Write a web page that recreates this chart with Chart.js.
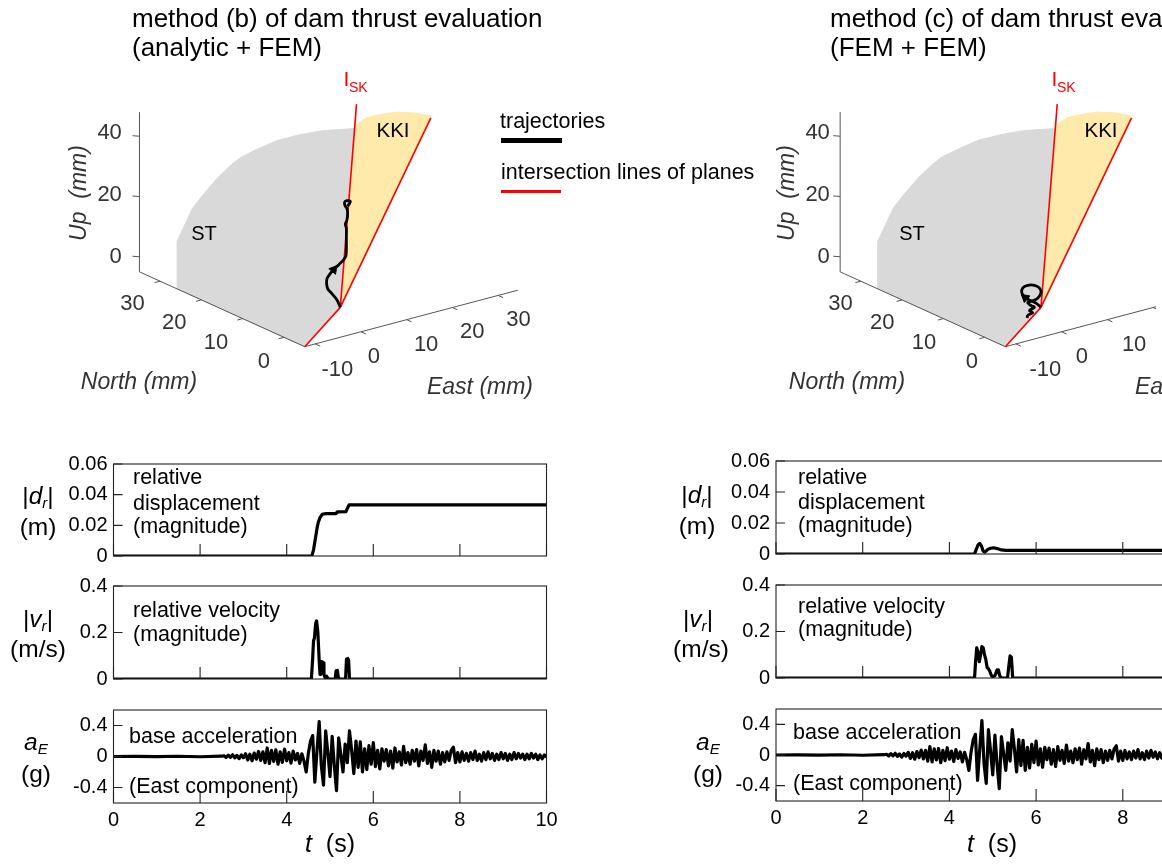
<!DOCTYPE html>
<html><head><meta charset="utf-8">
<script src="https://cdn.jsdelivr.net/npm/chart.js@4.4.1/dist/chart.umd.min.js"></script>
<style>
html,body{margin:0;padding:0;background:#fff;overflow:hidden;width:1162px;height:865px;}
#wrap{position:relative;width:1162px;height:865px;overflow:hidden;font-family:"Liberation Sans",Arial,Helvetica,sans-serif;}
#wrap canvas{position:absolute;}
.t{position:absolute;white-space:nowrap;color:#000;line-height:1;}
.t sub{font-size:0.62em;line-height:0;vertical-align:-0.28em;}
</style></head><body><div id="wrap">
<canvas id="c3d" width="1162" height="430" style="left:0;top:0"></canvas>
</div>
<script>
// ---------------- DATA ----------------
// time-series axes
const timeTicks = [0, 2, 4, 6, 8, 10];
const timeLabels = ['0', '2', '4', '6', '8', '10'];
const dTicks = [0, 0.02, 0.04, 0.06];
const dLabels = ['0', '0.02', '0.04', '0.06'];
const vTicks = [0, 0.2, 0.4];
const vLabels = ['0', '0.2', '0.4'];
const aTicks = [-0.4, 0, 0.4];
const aLabels = ['-0.4', '0', '0.4'];

// method (b): relative displacement magnitude [t (s), |dr| (m)]
const dispB = [[0,0],[4.58,0],[4.62,0.004],[4.66,0.011],[4.7,0.018],[4.73,0.022],[4.77,0.025],[4.82,0.0272],[4.9,0.0276],[5.14,0.0277],[5.17,0.0288],[5.37,0.029],[5.4,0.031],[5.44,0.0333],[6.5,0.0334],[8,0.0333],[10,0.0333]];
// method (b): relative velocity magnitude [t (s), |vr| (m/s)]
const velB = [[0,0],[4.57,0],[4.6,0.09],[4.62,0.165],[4.64,0.175],[4.67,0.24],[4.69,0.25],[4.72,0.2],[4.75,0.08],[4.77,0.02],[4.79,0.06],[4.81,0.075],[4.84,0.07],[4.86,0.02],[4.89,0.003],[4.92,0.012],[4.95,0.004],[4.98,0],[5.12,0],[5.14,0.035],[5.17,0.037],[5.19,0.01],[5.21,0],[5.36,0],[5.38,0.085],[5.41,0.088],[5.43,0.08],[5.45,0],[10,0]];
// method (c): relative displacement magnitude
const dispC = [[0,0],[4.58,0],[4.62,0.003],[4.66,0.0058],[4.7,0.0068],[4.74,0.0052],[4.78,0.0018],[4.82,0.0012],[4.88,0.0028],[4.95,0.0037],[5.02,0.004],[5.1,0.0035],[5.2,0.0026],[5.3,0.0024],[10,0.0024]];
// method (c): relative velocity magnitude
const velC = [[0,0],[4.58,0],[4.6,0.06],[4.63,0.13],[4.66,0.11],[4.69,0.07],[4.72,0.1],[4.75,0.135],[4.78,0.13],[4.81,0.1],[4.84,0.08],[4.87,0.045],[4.9,0.04],[4.93,0.03],[4.97,0.01],[5.0,0.005],[5.05,0.01],[5.1,0.035],[5.13,0.035],[5.16,0.01],[5.2,0],[5.34,0],[5.37,0.05],[5.4,0.095],[5.43,0.09],[5.46,0],[10,0]];
// base acceleration, East component [t (s), aE (g)]
const accelE = [[0,0],[0.5,0.002],[1,-0.002],[1.5,0.003],[2,-0.003],[2.5,0.004],
[2.55,0.01],[2.6,-0.012],[2.65,0.018],[2.7,-0.01],[2.75,0.022],[2.8,-0.018],[2.85,0.015],[2.9,-0.028],[2.95,0.02],[3.0,-0.015],
[3.05,0.035],[3.1,-0.045],[3.15,0.03],[3.2,-0.055],[3.25,0.045],[3.3,-0.035],[3.35,0.065],[3.4,-0.05],[3.45,0.06],[3.5,-0.08],
[3.55,0.11],[3.6,-0.09],[3.65,0.08],[3.7,-0.065],[3.75,0.085],[3.8,-0.1],[3.85,0.06],[3.9,-0.075],[3.95,0.095],[4.0,-0.055],
[4.05,0.05],[4.1,-0.085],[4.15,0.07],[4.2,-0.045],[4.25,0.04],[4.3,-0.09],[4.35,0.035],[4.4,-0.06],[4.45,-0.2],[4.5,0.04],
[4.55,0.2],[4.6,0.27],[4.65,-0.33],[4.7,0.08],[4.75,0.45],[4.8,-0.12],[4.85,-0.37],[4.9,0.33],[4.95,0.05],[5.0,-0.26],
[5.05,0.26],[5.1,-0.12],[5.15,-0.44],[5.2,0.24],[5.25,0.02],[5.3,-0.2],[5.35,0.16],[5.4,-0.08],[5.45,0.33],[5.5,0.08],
[5.55,-0.22],[5.6,0.2],[5.65,-0.14],[5.7,0.19],[5.75,-0.2],[5.8,0.1],[5.85,-0.17],[5.9,0.14],[5.95,-0.1],[6.0,0.18],
[6.05,-0.13],[6.1,0.08],[6.15,-0.16],[6.2,0.1],[6.25,-0.06],[6.3,0.09],[6.35,-0.12],[6.4,0.07],[6.45,-0.15],[6.5,0.11],
[6.55,-0.07],[6.6,0.06],[6.65,-0.11],[6.7,0.13],[6.75,-0.08],[6.8,0.05],[6.85,-0.1],[6.9,0.08],[6.95,-0.06],[7.0,0.09],
[7.05,-0.12],[7.1,0.07],[7.15,-0.05],[7.2,0.15],[7.25,-0.09],[7.3,0.06],[7.35,-0.14],[7.4,0.08],[7.45,-0.06],[7.5,0.07],
[7.55,-0.1],[7.6,0.05],[7.65,-0.07],[7.7,0.06],[7.75,-0.05],[7.8,0.08],[7.85,0.12],[7.9,-0.08],[7.95,0.05],[8.0,-0.07],
[8.05,0.06],[8.1,-0.05],[8.15,0.04],[8.2,-0.06],[8.25,0.05],[8.3,-0.04],[8.35,0.07],[8.4,-0.05],[8.45,0.03],[8.5,-0.06],
[8.55,0.05],[8.6,-0.04],[8.65,0.06],[8.7,-0.03],[8.75,0.04],[8.8,-0.05],[8.85,0.03],[8.9,-0.04],[8.95,0.05],[9.0,-0.03],
[9.05,0.04],[9.1,-0.05],[9.15,0.03],[9.2,-0.04],[9.25,0.05],[9.3,-0.03],[9.35,0.04],[9.4,-0.02],[9.45,0.03],[9.5,-0.04],
[9.55,0.03],[9.6,-0.03],[9.65,0.04],[9.7,-0.02],[9.75,0.03],[9.8,-0.04],[9.85,0.02],[9.9,-0.03],[9.95,0.02],[10.0,-0.01]];

// 3-D panels: [North, East, Up] in mm
const northTicks = [0, 10, 20, 30];
const eastTicks = [-10, 0, 10, 20, 30];
const upTicks = [0, 20, 40];
const limN = [-5, 35], limE = [-12.3, 34.3], limU = [-5, 48];
const stPlane = [[25.9,-12.3,-5],[25.9,-12.3,10.8],[38.2,0,2.0],[35.8,0,10.6],[33.4,0,16.3],[29.8,0,24.3],[26.3,0,31.1],[23.9,0,35.1],[20.0,0,40.1],[15.2,0,46.0],[9.5,0,51.5],[4.0,0,56.2],[-0.1,0,59.1],[0,3.12,58.1],[0,0,0],[-5,-12.3,-5],[25.9,-12.3,-5]];
const kkiPlane = [[0,0,0],[0,3.18,59.05],[0,5.71,60.6],[0,7.88,60.6],[0,12.21,59.9],[0,16.54,57.8],[0,19.57,55.7],[0,19.8,54.9],[0,0,0]];
const iskLine = [[0,0,0],[0,3.55,66.0]];
const kkiEdge = [[0,0,0],[0,19.8,54.9]];
const lowEdge = [[0,0,0],[-5,-12.3,-5]];
const trajB = [[0,0,0],[0.79,0,1.96],[1.99,0,3.25],[3.02,0,4.22],[3.33,0,5.96],[3.19,0,7.66],[2.54,0,9.45],[1.58,0,11.57],[0.38,0,13.93],[-0.81,0,16.28],[-1.37,0,18.01],[-1.46,0,20.78],[-1.46,0,24.0],[-1.46,0,27.2],[-1.22,0,28.4],[-1.6,0,30.0],[-1.77,0,32.3],[-1.6,0,33.8],[-1.13,0,34.5],[-1.05,0,35.6],[-1.6,0,36.4],[-2.42,0,36.7],[-2.25,0,35.8],[-1.77,0,34.7]];
const trajC = [[0,0,0],[1.2,0,0.67],[2.4,0,0.67],[3.83,0,0.85],[4.65,0,1.95],[4.41,0,3.72],[3.21,0,5.33],[1.6,0,6.33],[0.41,0,6.2],[0,0,4.84],[0.81,0,2.53],[2.01,0,0.91],[3.21,0,-0.38],[2.4,0,-0.94],[1.6,0,-0.99],[2.8,0,-2.8],[2.01,0,-3.05],[3.21,0,-4.67],[3.35,0,-5.63]];
const arrowB = [1.58, 0, 11.57];
const arrowC = [3.83, 0, 0.85];

// ---------------- VIEW / LAYOUT ----------------
const VIEW = {ox:337.8, oy:310, nx:-4.175, ny:-1.925, ex:4.62, ey:-1.247, uy:-3.1};
const PANELS = [0, 708];
const FONT = '"Liberation Sans", Arial, Helvetica, sans-serif';
Chart.defaults.font.family = FONT;

function proj(p, off){
  return {x: VIEW.ox + off + p[0]*VIEW.nx + p[1]*VIEW.ex, y: VIEW.oy + p[0]*VIEW.ny + p[1]*VIEW.ey + p[2]*VIEW.uy};
}
function segs(list, off){
  const out = [];
  list.forEach((s, i) => { if (i) out.push({x:0, y:null}); s.forEach(p => out.push(proj(p, off))); });
  return out;
}

const ds3d = [];
PANELS.forEach((off, k) => {
  const traj = k ? trajC : trajB;
  const arr = k ? arrowC : arrowB;
  ds3d.push({data: stPlane.map(p => proj(p, off)), borderColor:'#d9d9d9', borderWidth:1, backgroundColor:'#d9d9d9', fill:'shape', pointRadius:0, tension:0, order:20});
  ds3d.push({data: kkiPlane.map(p => proj(p, off)), borderColor:'#ffe9ab', borderWidth:1, backgroundColor:'#ffe9ab', fill:'shape', pointRadius:0, tension:0, order:19});
  const axes = [[[limN[0],limE[0],limU[0]],[limN[1],limE[0],limU[0]]],[[limN[0],limE[0],limU[0]],[limN[0],limE[1],limU[0]]],[[limN[1],limE[0],limU[0]],[limN[1],limE[0],limU[1]]]];
  const ticks = [];
  northTicks.forEach(n => ticks.push([[n,limE[0],limU[0]],[n,limE[0]-1.2,limU[0]]]));
  eastTicks.forEach(e => ticks.push([[limN[0],e,limU[0]],[limN[0]-1.2,e,limU[0]]]));
  upTicks.forEach(u => ticks.push([[limN[1],limE[0],u],[limN[1]+0.8,limE[0]-0.8,u]]));
  ds3d.push({data: segs(axes.concat(ticks), off), borderColor:'#555', borderWidth:1, pointRadius:0, fill:false, order:15});
  ds3d.push({data: segs([iskLine, kkiEdge, lowEdge], off), borderColor:'#ff0000', borderWidth:1.6, pointRadius:0, fill:false, order:10});
  ds3d.push({data: traj.map(p => proj(p, off)), borderColor:'#000', borderWidth:2.8, pointRadius:0, fill:false, tension:0.35, order:5});
  ds3d.push({data: [proj(arr, off)], showLine:false, pointStyle:'triangle', pointRadius:5, rotation: k ? -50 : 40, backgroundColor:'#000', borderColor:'#000', borderWidth:1, order:4});
});

const labels3D = {
  id:'labels3D',
  afterDatasetsDraw(chart){
    const ctx = chart.ctx;
    ctx.save();
    ctx.textBaseline = 'middle';
    PANELS.forEach(off => {
      ctx.fillStyle = '#333';
      ctx.font = '22px ' + FONT;
      ctx.textAlign = 'right';
      northTicks.forEach(n => { const p = proj([n,limE[0],limU[0]], off); ctx.fillText(String(n), p.x-11, p.y+21); });
      upTicks.forEach(u => { const p = proj([limN[1],limE[0],u], off); ctx.fillText(String(u), p.x-13, p.y-1); });
      ctx.textAlign = 'left';
      eastTicks.forEach(e => { const p = proj([limN[0],e,limU[0]], off); ctx.fillText(String(e), p.x+9, p.y+22); });
      ctx.font = 'italic 23px ' + FONT;
      ctx.textAlign = 'center';
      ctx.fillText('North (mm)', 139+off, 383);
      ctx.fillText('East (mm)', 480+off, 388);
      ctx.save(); ctx.translate(80+off, 193); ctx.rotate(-Math.PI/2); ctx.fillText('Up  (mm)', 0, 0); ctx.restore();
      ctx.fillStyle = '#000';
      ctx.font = '20px ' + FONT;
      ctx.fillText('ST', 204+off, 234);
      ctx.font = '20.5px ' + FONT;
      ctx.fillText('KKI', 393+off, 131);
      ctx.fillStyle = '#ff0000';
      ctx.font = '21px ' + FONT;
      ctx.fillText('I', 346.5+off, 80);
      ctx.font = '14px ' + FONT;
      ctx.textAlign = 'left';
      ctx.fillText('SK', 349+off, 88);
    });
    ctx.restore();
  }
};

new Chart(document.getElementById('c3d'), {
  type:'line',
  data:{datasets: ds3d},
  options:{
    responsive:false, animation:false, devicePixelRatio:1, events:[],
    layout:{padding:0},
    plugins:{legend:{display:false}, tooltip:{enabled:false}},
    scales:{
      x:{type:'linear', min:0, max:1162, display:false},
      y:{type:'linear', min:0, max:430, reverse:true, display:false}
    }
  },
  plugins:[labels3D]
});

// ---------------- TIME-SERIES PANELS ----------------
const wrap = document.getElementById('wrap');
const COLS = [
  {left:0, boxLeft:113.5, boxRight:546.5, boxes:[[464,556],[586,679],[710,803]]},
  {left:662, boxLeft:776, boxRight:1209.5, boxes:[[461,554],[585,678],[709,801]]}
];

function makePanel(col, box, yMin, yMax, yTicks, yLabels, series, lw, showX){
  const W = 560, padTop = 14, xh = showX ? 50 : 0, padBottom = showX ? 0 : 14;
  const H = (box[1]-box[0]) + padTop + padBottom + xh;
  const cv = document.createElement('canvas');
  cv.width = W; cv.height = H;
  cv.style.left = col.left + 'px'; cv.style.top = (box[0]-padTop) + 'px';
  wrap.appendChild(cv);
  const boxPlugin = {
    id:'panelBox',
    afterDatasetsDraw(chart){
      const {ctx, chartArea:a, scales:{x, y}} = chart;
      ctx.save();
      ctx.strokeStyle = '#222'; ctx.lineWidth = 1.1;
      ctx.strokeRect(a.left, a.top, a.right-a.left, a.bottom-a.top);
      ctx.beginPath();
      timeTicks.forEach(v => { const px = x.getPixelForValue(v); ctx.moveTo(px, a.bottom); ctx.lineTo(px, a.bottom-12); });
      yTicks.forEach(v => { const py = y.getPixelForValue(v); ctx.moveTo(a.left, py); ctx.lineTo(a.left+9, py); });
      ctx.stroke();
      ctx.restore();
    }
  };
  new Chart(cv, {
    type:'line',
    data:{datasets:[{data: series.map(([t, v]) => ({x:t, y:v})), borderColor:'#000', borderWidth:lw, pointRadius:0, tension:0, fill:false, borderJoinStyle:'round'}]},
    options:{
      responsive:false, animation:false, devicePixelRatio:1, events:[],
      layout:{padding:{left:0, top:padTop, right: W-(col.boxRight-col.left), bottom:padBottom}},
      plugins:{legend:{display:false}, tooltip:{enabled:false}},
      scales:{
        x:{type:'linear', min:0, max:10, display:showX,
           grid:{display:false, drawTicks:false}, border:{display:false},
           afterBuildTicks: s => { s.ticks = timeTicks.map(v => ({value:v})); },
           afterFit: s => { s.height = xh; s.paddingLeft = 0; s.paddingRight = 0; },
           ticks:{font:{size:20}, color:'#000', padding:5, maxRotation:0, autoSkip:false, callback:(v, i) => timeLabels[i]}},
        y:{type:'linear', min:yMin, max:yMax,
           grid:{display:false, drawTicks:false}, border:{display:false},
           afterBuildTicks: s => { s.ticks = yTicks.map(v => ({value:v})); },
           afterFit: s => { s.width = col.boxLeft - col.left; s.paddingTop = 0; s.paddingBottom = 0; },
           ticks:{font:{size:20}, color:'#000', padding:6, autoSkip:false, callback:(v, i) => yLabels[i]}}
      }
    },
    plugins:[boxPlugin]
  });
}

makePanel(COLS[0], COLS[0].boxes[0], 0, 0.06, dTicks, dLabels, dispB, 3.2, false);
makePanel(COLS[0], COLS[0].boxes[1], 0, 0.4, vTicks, vLabels, velB, 3.2, false);
makePanel(COLS[0], COLS[0].boxes[2], -0.6, 0.6, aTicks, aLabels, accelE, 3.2, true);
makePanel(COLS[1], COLS[1].boxes[0], 0, 0.06, dTicks, dLabels, dispC, 3.2, false);
makePanel(COLS[1], COLS[1].boxes[1], 0, 0.4, vTicks, vLabels, velC, 3.2, false);
makePanel(COLS[1], COLS[1].boxes[2], -0.6, 0.6, aTicks, aLabels, accelE, 3.2, true);

// ---------------- TEXT ----------------
function txt(html, x, y, size, opt){
  opt = opt || {};
  const d = document.createElement('div');
  d.className = 't';
  d.innerHTML = html;
  d.style.fontSize = size + 'px';
  d.style.left = x + 'px';
  d.style.top = y + 'px';
  if (opt.color) d.style.color = opt.color;
  d.style.transform = opt.center ? 'translate(-50%,-50%)' : 'translate(0,-50%)';
  wrap.appendChild(d);
}
// titles
txt('method (b) of dam thrust evaluation', 132, 18, 26);
txt('(analytic + FEM)', 132, 47, 26);
txt('method (c) of dam thrust evaluation', 830, 18, 26);
txt('(FEM + FEM)', 830, 47, 26);
// legend
txt('trajectories', 500, 122, 21.5);
txt('intersection lines of planes', 501, 173, 21.5);
const lg1 = document.createElement('div'); lg1.style.cssText = 'position:absolute;left:501px;top:138px;width:61px;height:5px;background:#000;'; wrap.appendChild(lg1);
const lg2 = document.createElement('div'); lg2.style.cssText = 'position:absolute;left:501px;top:190px;width:60px;height:2.5px;background:#ff0000;'; wrap.appendChild(lg2);
// y labels
const yl = [
  [['|<i>d<sub>r</sub></i>|', 38, 496], ['(m)', 38, 527], ['|<i>v<sub>r</sub></i>|', 38, 619], ['(m/s)', 38, 649], ['<i>a<sub>E</sub></i>', 36, 742], ['(g)', 36, 774]],
  [['|<i>d<sub>r</sub></i>|', 697, 495], ['(m)', 697, 526], ['|<i>v<sub>r</sub></i>|', 698, 619], ['(m/s)', 701, 649], ['<i>a<sub>E</sub></i>', 708, 742], ['(g)', 708, 774]]
];
yl.forEach(c => c.forEach(([h, x, y]) => txt(h, x, y, 24.5, {center:true})));
// annotations
const ann = [
  {x:133, rows:[['relative',478],['displacement',504],['(magnitude)',527],['relative velocity',611],['(magnitude)',635],['base acceleration',737],['(East component)',787]]},
  {x:798, rows:[['relative',478],['displacement',503],['(magnitude)',526],['relative velocity',607],['(magnitude)',630],['base acceleration',733],['(East component)',784]]}
];
ann.forEach((a, k) => a.rows.forEach(([s, y], i) => txt(s, (i >= 5 ? a.x - (k ? 5 : 4) : a.x), y, 21.5)));
// x titles
txt('<i>t</i>&nbsp; (s)', 330, 843, 25, {center:true});
txt('<i>t</i>&nbsp; (s)', 992, 843, 25, {center:true});
</script>
</body></html>
